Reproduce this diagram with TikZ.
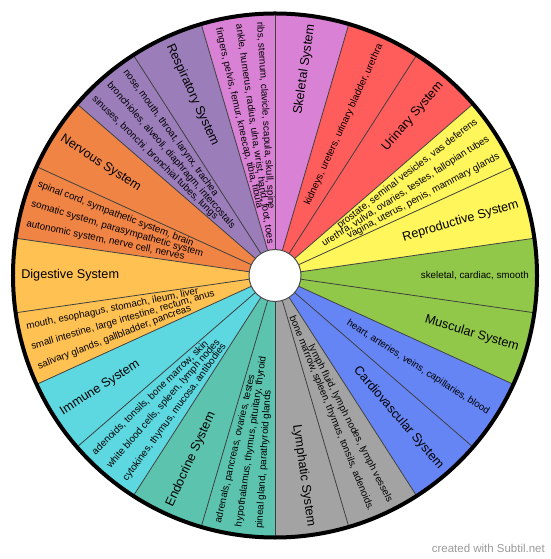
\documentclass[tikz,border=0pt]{standalone}
\usepackage{fontspec}
\setmainfont{Liberation Sans}
\usetikzlibrary{calc}
\definecolor{skelcol}{HTML}{D982D5}
\definecolor{urincol}{HTML}{FF5C5C}
\definecolor{reprcol}{HTML}{FFF65C}
\definecolor{musccol}{HTML}{92C84A}
\definecolor{cardcol}{HTML}{6685F5}
\definecolor{lymphcol}{HTML}{A3A3A3}
\definecolor{endocol}{HTML}{5CC4AE}
\definecolor{immucol}{HTML}{5DD8E0}
\definecolor{digecol}{HTML}{FFC152}
\definecolor{nervcol}{HTML}{F08444}
\definecolor{respcol}{HTML}{9B7DBA}
\definecolor{creditcol}{HTML}{999999}

\tikzset{
  systitle/.style={font=\fontsize{9.5}{11}\selectfont, inner sep=0pt},
  sysparts/.style={font=\fontsize{7.35}{9}\selectfont, inner sep=0pt},
  divline/.style={black!75, line width=0.6pt},
  credit/.style={font=\fontsize{8.6}{10}\selectfont, text=creditcol, inner sep=0pt}
}

% text along a radius, read outward on the right, inward on the left
\newcommand\wheeltext[4]{%
  \pgfmathsetmacro\wang{#2}%
  \pgfmathsetmacro\wrot{\wang+180}%
  \pgfmathtruncatemacro\rside{cos(\wang)>0}%
  \ifnum\rside=1
    \node[#3, anchor=east, rotate=\wang] (#1) at (\wang:254) {#4};
  \else
    \node[#3, anchor=west, rotate=\wrot] (#1) at (\wang:254) {#4};
  \fi}

\begin{document}
\begin{tikzpicture}[x=0.75pt, y=0.75pt]
\useasboundingbox (-275,-283.5) rectangle (275,275.5);
\foreach \k/\col in {0/skelcol, 1/urincol, 2/reprcol, 3/musccol, 4/cardcol,
    5/lymphcol, 6/endocol, 7/immucol, 8/digecol, 9/nervcol, 10/respcol} {
  \pgfmathsetmacro\a{106.3636-32.7273*\k}
  \fill[\col] (0,0) -- (\a:262) arc[start angle=\a, delta angle=-32.7273, radius=262] -- cycle;
}
\foreach \i in {0,...,21}
  \draw[divline] (0,0) -- ({106.3636-16.3636*\i}:262);
\draw[line width=3pt] (0,0) circle (262);
\filldraw[fill=white, draw=black!70, line width=0.75pt] (0,0) circle (26);

\foreach \k/\t in {0/Skeletal System, 1/Urinary System, 2/Reproductive System,
    3/Muscular System, 4/Cardiovascular System, 5/Lymphatic System,
    6/Endocrine System, 7/Immune System, 8/Digestive System,
    9/Nervous System, 10/Respiratory System}
  \wheeltext{sys\k}{81.8182-32.7273*\k}{systitle}{\t};

\wheeltext{skel1}{93.48}{sysparts}{ribs, sternum, clavicle, scapula, skull, spine}
\wheeltext{skel2}{98.18}{sysparts}{ankle, humerus, radius, ulna, wrist, hand, foot, toes}
\wheeltext{skel3}{102.88}{sysparts}{fingers, pelvis, femur, kneecap, tibia, fibula}
\wheeltext{urin1}{65.45}{sysparts}{kidneys, ureters, urinary bladder, urethra}
\wheeltext{repr1}{37.43}{sysparts}{prostate, seminal vesicles, vas deferens}
\wheeltext{repr2}{32.73}{sysparts}{urethra, vulva, ovaries, testes, fallopian tubes}
\wheeltext{repr3}{28.03}{sysparts}{vagina, uterus, penis, mammary glands}
\wheeltext{musc1}{0}{sysparts}{skeletal, cardiac, smooth}
\wheeltext{card1}{-32.73}{sysparts}{heart, arteries, veins, capillaries, blood}
\wheeltext{lymph1}{-63.1}{sysparts}{lymph fluid, lymph nodes, lymph vessels}
\wheeltext{lymph2}{-67.8}{sysparts}{bone marrow, spleen, thymus, tonsils, adenoids.}
\wheeltext{endo1}{257.12}{sysparts}{adrenals, pancreas, ovaries, testes}
\wheeltext{endo2}{261.82}{sysparts}{hypothalamus, thymus, pituitary, thyroid}
\wheeltext{endo3}{266.52}{sysparts}{pineal gland, parathyroid glands}
\wheeltext{immu1}{224.39}{sysparts}{adenoids, tonsils, bone marrow, skin}
\wheeltext{immu2}{229.09}{sysparts}{white blood cells, spleen, lymph nodes}
\wheeltext{immu3}{233.79}{sysparts}{cytokines, thymus, mucosa, antibodies}
\wheeltext{dige1}{191.66}{sysparts}{mouth, esophagus, stomach, ileum, liver}
\wheeltext{dige2}{196.36}{sysparts}{small intestine, large intestine, rectum, anus}
\wheeltext{dige3}{201.06}{sysparts}{salivary glands, gallbladder, pancreas}
\wheeltext{nerv1}{158.94}{sysparts}{spinal cord, sympathetic system, brain}
\wheeltext{nerv2}{163.64}{sysparts}{somatic system, parasympathetic system}
\wheeltext{nerv3}{168.34}{sysparts}{autonomic system, nerve cell, nerves}
\wheeltext{resp1}{126.21}{sysparts}{nose, mouth, throat, larynx, trachea}
\wheeltext{resp2}{130.91}{sysparts}{bronchioles, alveoli, diaphragm, intercostals}
\wheeltext{resp3}{135.61}{sysparts}{sinuses, bronchi, bronchial tubes, lungs}

\node[credit, anchor=east] (made) at (270,-272.5) {created with Subtil.net};
\end{tikzpicture}
\end{document}
